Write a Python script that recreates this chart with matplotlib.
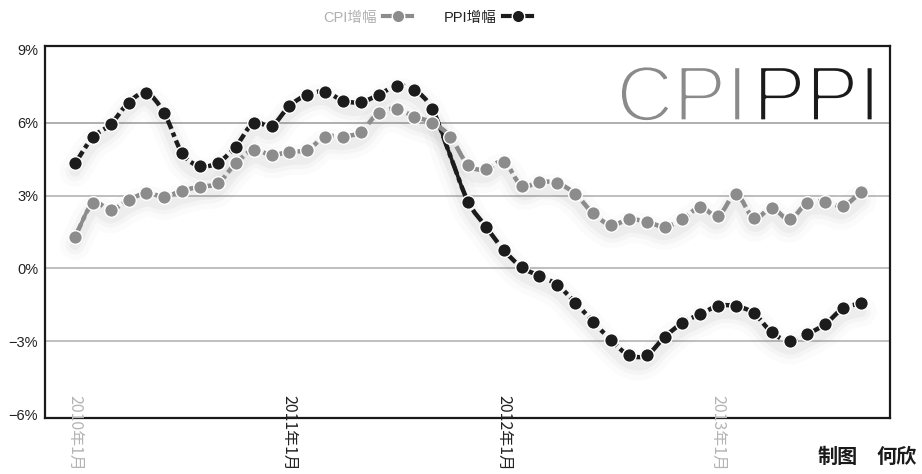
import numpy as np
import matplotlib
matplotlib.use("Agg")
import matplotlib.pyplot as plt
from matplotlib.path import Path
from matplotlib.patches import PathPatch
from matplotlib.lines import Line2D
from matplotlib import transforms
import matplotlib.patheffects as pe

plt.rcParams['font.family'] = ['Liberation Sans', 'Noto Sans CJK SC', 'DejaVu Sans']

# monthly, 2010-01 .. 2013-09
cpi = [1.31, 2.68, 2.41, 2.82, 3.10, 2.96, 3.20, 3.37, 3.51, 4.33, 4.88, 4.67,
       4.81, 4.88, 5.43, 5.43, 5.63, 6.42, 6.56, 6.25, 6.00, 5.43, 4.26, 4.08,
       4.40, 3.40, 3.57, 3.51, 3.07, 2.27, 1.79, 2.02, 1.93, 1.72, 2.02, 2.52,
       2.16, 3.05, 2.07, 2.48, 2.02, 2.71, 2.75, 2.58, 3.14]
ppi = [4.33, 5.40, 5.94, 6.83, 7.22, 6.39, 4.74, 4.22, 4.36, 5.02, 6.00, 5.87,
       6.69, 7.15, 7.28, 6.91, 6.85, 7.15, 7.52, 7.35, 6.56, 4.65, 2.75, 1.72,
       0.76, 0.05, -0.31, -0.68, -1.41, -2.19, -2.95, -3.57, -3.57, -2.83, -2.24, -1.88,
       -1.55, -1.55, -1.85, -2.63, -2.99, -2.70, -2.29, -1.64, -1.44]
yticks = [9, 6, 3, 0, -3, -6]
xlabels = ['2010年1月', '2011年1月', '2012年1月', '2013年1月']
xlabel_pos = [0, 12, 24, 36]
xlabel_col = ['#b4b4b4', '#222222', '#222222', '#b4b4b4']

CPI_C = '#8c8c8c'
PPI_C = '#1c1c1c'


def curve_path(y, start=0, stop=None):
    # Catmull-Rom control points -> cubic bezier path
    y = np.asarray(y, float)
    x = np.arange(len(y), dtype=float)
    pts = np.column_stack([x, y])
    ext = np.vstack([2 * pts[0] - pts[1], pts, 2 * pts[-1] - pts[-2]])
    if stop is None:
        stop = len(y) - 1
    verts = [pts[start]]
    codes = [Path.MOVETO]
    for i in range(start, stop):
        p0, p1, p2, p3 = ext[i], ext[i + 1], ext[i + 2], ext[i + 3]
        c1 = p1 + (p2 - p0) / 6.0
        c2 = p2 - (p3 - p1) / 6.0
        verts += [c1, c2, p2]
        codes += [Path.CURVE4] * 3
    return Path(verts, codes)


fig = plt.figure(figsize=(9.22, 4.74), dpi=100)
ax = fig.add_axes([45 / 922, 1 - 418 / 474, 845 / 922, 372 / 474])

ax.set_xlim(-1.68, 45.62)
ax.set_ylim(-6.16, 9.16)

for g in [6, 3, 0, -3]:
    ax.axhline(g, color='#adadad', lw=1.1, zorder=1)

# big title inside the plot (drawn early so the gridline stays visible)
eroder = [pe.Normal(), pe.Stroke(linewidth=2.4, foreground='white')]
t1 = ax.text(748 / 922, 1 - 121 / 474, 'CPI', ha='right', va='baseline', fontsize=57,
             color='#8a8a8a', transform=fig.transFigure, zorder=0.5)
t2 = ax.text(753 / 922, 1 - 121 / 474, 'PPI', ha='left', va='baseline', fontsize=57,
             color='#1a1a1a', transform=fig.transFigure, zorder=0.5)
t1.set_path_effects(eroder)
t2.set_path_effects(eroder)
ax.axhline(6, color='#adadad', lw=1.1, zorder=0.6)

shadow = transforms.offset_copy(ax.transData, fig=fig, x=0, y=-8, units='dots')

for data, col, solid in [(ppi, PPI_C, [(20, 22)]), (cpi, CPI_C, [(0, 1)])]:
    for lw, a in [(22, 0.025), (14, 0.04), (8, 0.05)]:
        ax.add_patch(PathPatch(curve_path(data), fill=False, ec='#6a6a6a', lw=lw,
                               alpha=a, transform=shadow, zorder=2, capstyle='round'))
    ax.add_patch(PathPatch(curve_path(data), fill=False, ec=col, lw=3.2,
                           ls=(0, (3.2, 0.9, 1.0, 0.9)), zorder=3))
    for a, b in solid:
        ax.add_patch(PathPatch(curve_path(data, a, b), fill=False, ec=col, lw=2.6, zorder=3))
    mk = [i for i in range(len(data)) if not (data is ppi and i == 21)]
    ax.plot(range(len(data)), data, ls='none', marker='o', ms=9.8, mfc=col,
            mec='white', mew=1.0, markevery=mk, zorder=4)

ax.set_yticks(yticks)
ax.set_yticklabels(['9%', '6%', '3%', '0%', '\u22123%', '\u22126%'], fontsize=10.5,
                   color='#222222')
ax.tick_params(axis='y', length=0, pad=5)
ax.set_xticks([])
for s in ax.spines.values():
    s.set_linewidth(1.6)
    s.set_color('#1a1a1a')

tr = transforms.blended_transform_factory(ax.transData, ax.transAxes)
for lab, pos, c in zip(xlabels, xlabel_pos, xlabel_col):
    ax.text(pos, 0.062, lab, transform=tr, rotation=270, ha='center', va='top',
            fontsize=11.5, color=c, family=['Noto Sans CJK SC', 'DejaVu Sans'],
            zorder=6)

handles = [Line2D([], [], color=CPI_C, lw=3, marker='o', ms=9, mfc=CPI_C, mec='white'),
           Line2D([], [], color=PPI_C, lw=3, marker='o', ms=9, mfc=PPI_C, mec='white')]
leg = fig.legend(handles, ['CPI增幅', 'PPI增幅'], loc='center', ncol=2,
                 bbox_to_anchor=(0.464, 0.963), frameon=False, markerfirst=False,
                 handlelength=2.0, handletextpad=0.4, columnspacing=2.2,
                 prop={'family': ['Liberation Sans', 'Noto Sans CJK SC'], 'size': 10.5})
leg.get_texts()[0].set_color('#b0b0b0')
leg.get_texts()[1].set_color('#222222')

cjk = ['Noto Sans CJK SC', 'DejaVu Sans']
fig.text(818 / 922, 1 - 456 / 474, '制图', ha='left', va='center', fontsize=14.5,
         fontweight='bold', color='#1a1a1a', family=cjk)
fig.text(876 / 922, 1 - 456 / 474, '何欣', ha='left', va='center', fontsize=14.5,
         fontweight='bold', color='#1a1a1a', family=cjk)

fig.savefig('out.png', dpi=100)
